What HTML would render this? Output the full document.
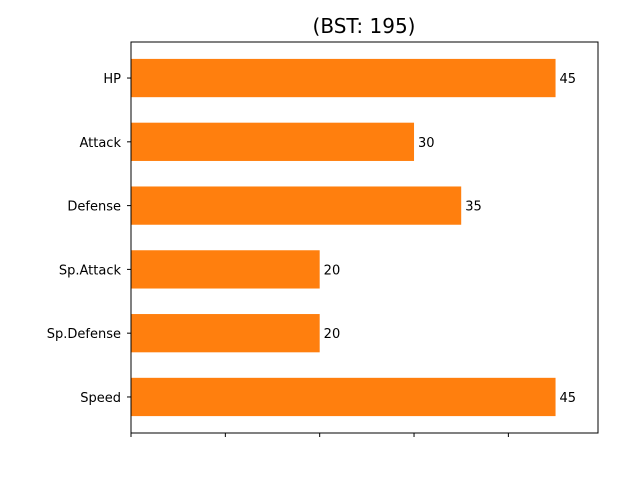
<!DOCTYPE html>
<html><head><meta charset="utf-8"><style>
body{margin:0;background:#fff;}
svg text{font-family:"DejaVu Sans","Liberation Sans",sans-serif;}
</style></head><body>
<svg width="640" height="480" xmlns="http://www.w3.org/2000/svg">
<rect width="640" height="480" fill="#fff"/>
<text x="364" y="33" font-size="20" text-anchor="middle">(BST: 195)</text>
<g id="bars"></g>
<rect x="131" y="42" width="467" height="391" fill="none" stroke="#000" stroke-width="1"/>
<g id="ticks"></g>
</svg>
<script>
const categories=["HP","Attack","Defense","Sp.Attack","Sp.Defense","Speed"];
const values=[45,30,35,20,20,45];
const xTicks=[0,10,20,30,40];
const L=131,R=598,T=42,B=433,xmax=49.5,ymin=-0.565,ymax=5.565;
const x=v=>L+(v/xmax)*(R-L);
const y=i=>T+((i-ymin)/(ymax-ymin))*(B-T);
const ns="http://www.w3.org/2000/svg";
const bars=document.getElementById('bars'),ticks=document.getElementById('ticks');
const bh=0.6*(B-T)/(ymax-ymin);
categories.forEach((c,i)=>{
 const r=document.createElementNS(ns,'rect');
 r.setAttribute('x',x(0));r.setAttribute('y',y(i)-bh/2);
 r.setAttribute('width',x(values[i])-x(0));r.setAttribute('height',bh);
 r.setAttribute('fill','#ff7f0e');
 
 
 bars.appendChild(r);
 const t=document.createElementNS(ns,'text');
 t.setAttribute('x',x(values[i])+4);t.setAttribute('y',y(i)+5);
 t.setAttribute('font-size','13');t.textContent=values[i];
 
 
 bars.appendChild(t);
 const tk=document.createElementNS(ns,'line');
 tk.setAttribute('x1',L-4);tk.setAttribute('x2',L);tk.setAttribute('y1',y(i));tk.setAttribute('y2',y(i));
 tk.setAttribute('stroke','#000');
 
 
 ticks.appendChild(tk);
 const yl=document.createElementNS(ns,'text');
 yl.setAttribute('x',L-10);yl.setAttribute('y',y(i)+5);yl.setAttribute('text-anchor','end');
 yl.setAttribute('font-size','13');yl.textContent=c;
 
 
 ticks.appendChild(yl);
});
xTicks.forEach(v=>{
 const tk=document.createElementNS(ns,'line');
 tk.setAttribute('x1',x(v));tk.setAttribute('x2',x(v));tk.setAttribute('y1',B);tk.setAttribute('y2',B+4);
 tk.setAttribute('stroke','#000');
 
 
 ticks.appendChild(tk);
});
</script>
</body></html>
